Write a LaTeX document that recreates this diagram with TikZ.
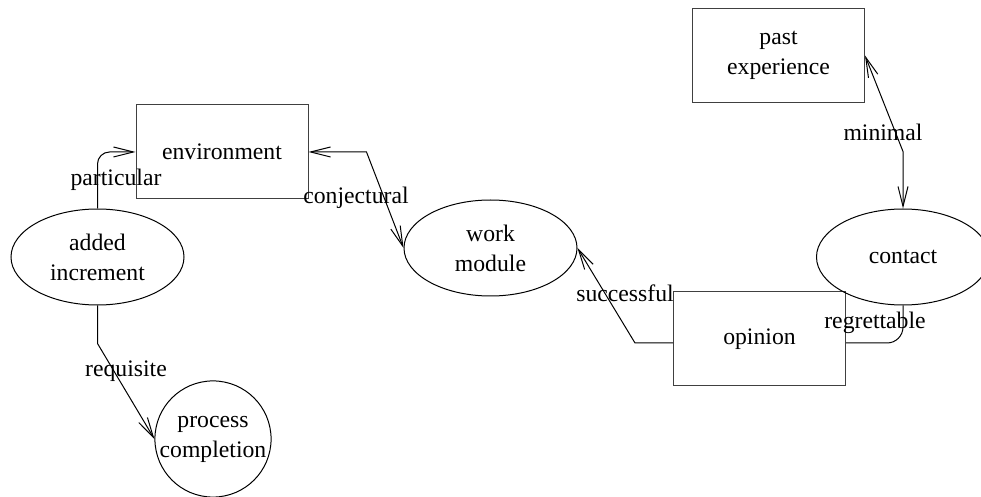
\documentclass[tikz,border=0pt]{standalone}
\usepackage{fontspec}
\setmainfont{Liberation Serif}
\usetikzlibrary{arrows.meta,shapes.geometric}
\begin{document}
\begin{tikzpicture}[x=0.5pt,y=-0.5pt,
  every node/.style={font=\fontsize{11.85}{15}\selectfont, align=center, inner sep=0pt},
  boxnode/.style={draw=black!75, line width=0.5pt, minimum width=86pt, minimum height=47pt},
  ellnode/.style={draw, ellipse, line width=0.5pt, minimum width=86.5pt, minimum height=48pt},
  circnode/.style={draw, circle, line width=0.5pt, minimum size=57pt},
  conn/.style={line width=0.5pt},
  arr/.style={conn, -{Straight Barb[length=10pt,width=5pt]}},
  darr/.style={conn, {Straight Barb[length=10pt,width=5pt]}-{Straight Barb[length=10pt,width=5pt]}},
  lbl/.style={fill=none}]
\useasboundingbox (0,0) rectangle (981,497);
\node[boxnode] (env) at (222,152) {environment};
\node[ellnode] (ai) at (97.5,257) {added\\increment};
\node[ellnode] (wm) at (490.5,248) {work\\module};
\node[boxnode] (op) at (759.5,339) {opinion};
\node[ellnode] (ct) at (903,257) {contact};
\node[boxnode] (pe) at (778.5,55.5) {past\\experience};
\node[circnode] (pc) at (213,439) {process\\completion};
% connectors
\draw[arr, rounded corners=6pt] (ai.north) |- (env.west);
\draw[darr] (env.east) -- ++(58,0) -- (wm.west);
\draw[arr] ([yshift=-2pt]op.west) -- ++(-38,0) -- (wm.east);
\draw[conn, rounded corners=8pt] ([yshift=-2pt]op.east) -| (ct.south);
\draw[darr] (pe.east) -- ++(38,96) -- (ct.north);
\draw[arr] (ai.south) -- ++(0,38) -- (pc.west);
% labels
\node[lbl] (lpart) at (116,180) {particular};
\node[lbl] (lconj) at (356,198) {conjectural};
\node[lbl] (lsucc) at (625,293) {successful};
\node[lbl] (lregr) at (875,323) {regrettable};
\node[lbl] (lmin) at (883,132) {minimal};
\node[lbl] (lreq) at (126,371) {requisite};
\end{tikzpicture}
\end{document}
